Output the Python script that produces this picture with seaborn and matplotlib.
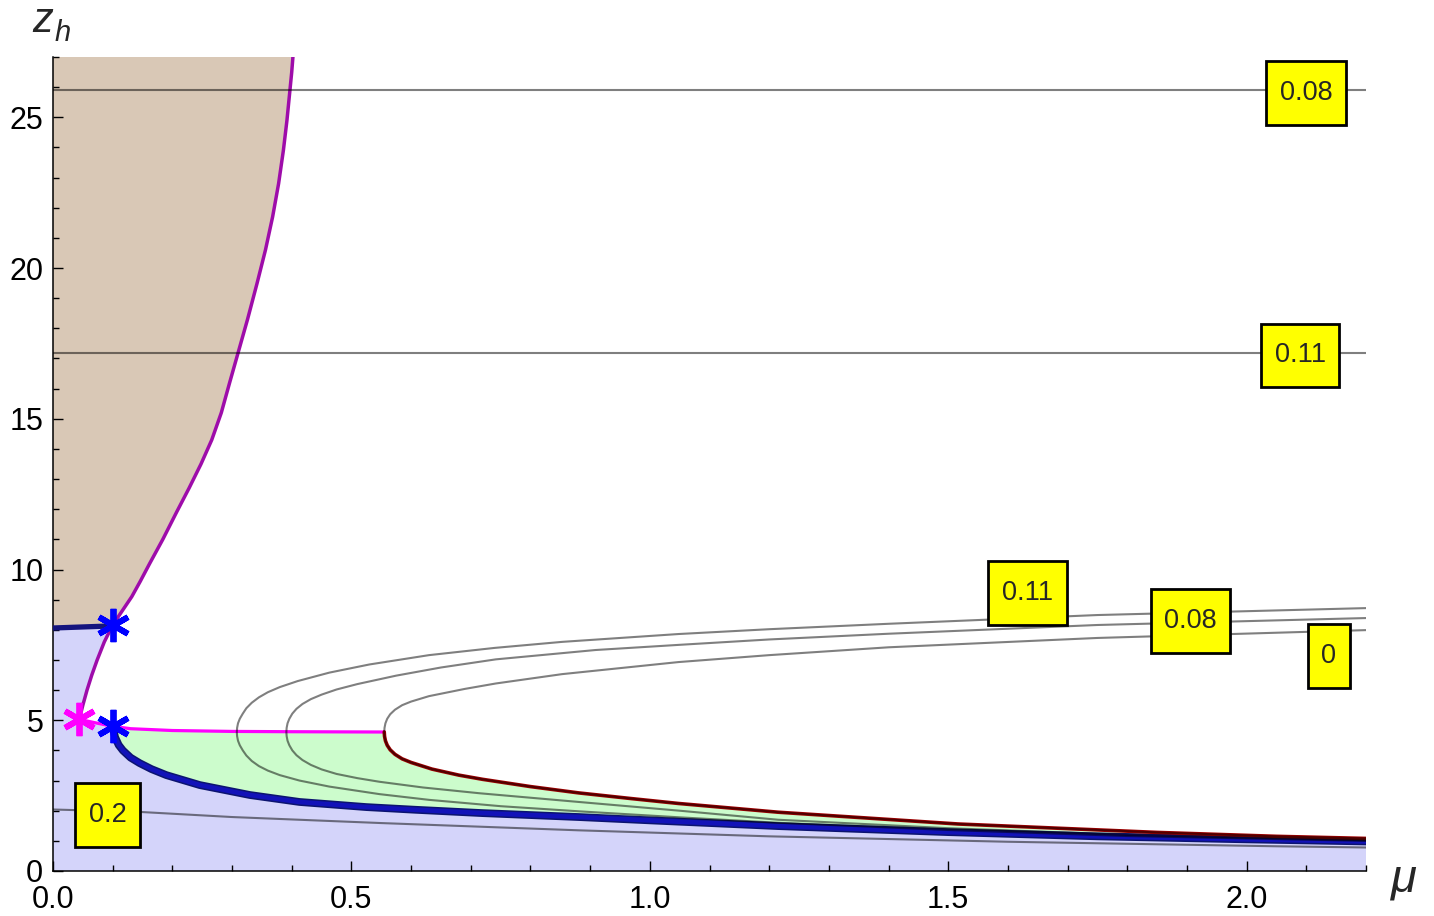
import matplotlib
matplotlib.use("Agg")
from matplotlib import pyplot as plt
from matplotlib.path import Path
from matplotlib.ticker import MultipleLocator
import seaborn as sns

# ---- data (mu, z_h) ----
# horizontal contour lines
hline_mu = [0.0, 2.2]
hline_008_z = [25.9, 25.9]
hline_011_z = [17.18, 17.18]

# purple boundary (pink star up to the top of the frame)
purple_mu = [0.044, 0.050, 0.057, 0.065, 0.074, 0.086, 0.100, 0.132, 0.146, 0.162, 0.184,
             0.207, 0.228, 0.248, 0.266, 0.282, 0.296, 0.310, 0.326, 0.342, 0.356, 0.368,
             0.378, 0.386, 0.392, 0.397, 0.400, 0.402]
purple_z = [5.03, 5.50, 6.00, 6.50, 7.00, 7.60, 8.16, 9.10, 9.60, 10.2, 11.0,
            11.9, 12.7, 13.5, 14.3, 15.2, 16.2, 17.18, 18.3, 19.5, 20.6, 21.7,
            22.8, 23.9, 24.9, 25.9, 26.5, 27.0]

# short dark blue line at the top of the lavender region
dblue_mu = [0.0, 0.1]
dblue_z = [8.06, 8.13]

# magenta line (pink star -> nose of the red curve)
mag_mu = [0.044, 0.070, 0.100, 0.130, 0.200, 0.300, 0.400, 0.555]
mag_z = [5.03, 4.92, 4.80, 4.72, 4.66, 4.63, 4.62, 4.61]

# thick blue curve
blue_mu = [0.100, 0.104, 0.110, 0.117, 0.130, 0.145, 0.165, 0.190, 0.246, 0.330,
           0.413, 0.525, 0.608, 0.720, 0.881, 1.000, 1.215, 1.500, 1.750, 2.000, 2.200]
blue_z = [4.80, 4.44, 4.18, 4.00, 3.76, 3.58, 3.38, 3.18, 2.85, 2.52,
          2.29, 2.12, 2.03, 1.92, 1.79, 1.68, 1.49, 1.29, 1.15, 1.05, 0.98]

# dark red curve
red_mu = [0.555, 0.5555, 0.557, 0.560, 0.565, 0.573, 0.585, 0.600, 0.635, 0.680, 0.720,
          0.800, 0.881, 0.970, 1.048, 1.215, 1.516, 1.850, 2.050, 2.200]
red_z = [4.61, 4.47, 4.32, 4.17, 4.02, 3.87, 3.72, 3.60, 3.38, 3.18, 3.04,
         2.80, 2.59, 2.40, 2.24, 1.95, 1.56, 1.28, 1.15, 1.08]

# gray contour "0" (upper branch; lower branch runs along the red curve)
g0_mu = [0.555, 0.5555, 0.557, 0.560, 0.565, 0.573, 0.585, 0.600, 0.630, 0.690, 0.742,
         0.853, 1.048, 1.200, 1.400, 1.750, 2.200]
g0_z = [4.61, 4.75, 4.90, 5.05, 5.20, 5.35, 5.50, 5.62, 5.80, 6.04, 6.22,
        6.53, 6.93, 7.16, 7.42, 7.73, 7.99]

# gray contour "0.08" (lower branch from the right, nose, upper branch)
g08_mu = [2.200, 1.800, 1.500, 1.215, 1.050, 0.881, 0.714, 0.620, 0.547, 0.510, 0.475,
          0.450, 0.432, 0.418, 0.408, 0.401, 0.396, 0.393, 0.3915, 0.391,
          0.3915, 0.393, 0.396, 0.401, 0.408, 0.418, 0.432, 0.450, 0.475, 0.510,
          0.575, 0.650, 0.742, 0.909, 1.048, 1.200, 1.400, 1.750, 2.200]
g08_z = [1.02, 1.20, 1.42, 1.70, 2.00, 2.29, 2.58, 2.77, 2.96, 3.08, 3.22,
         3.37, 3.52, 3.68, 3.84, 4.00, 4.17, 4.32, 4.47, 4.61,
         4.75, 4.90, 5.05, 5.22, 5.38, 5.54, 5.70, 5.85, 6.02, 6.20,
         6.48, 6.75, 7.02, 7.33, 7.50, 7.68, 7.87, 8.16, 8.39]

# gray contour "0.11"
g11_mu = [2.200, 1.800, 1.500, 1.215, 1.050, 0.881, 0.750, 0.630, 0.547, 0.463, 0.413,
          0.380, 0.360, 0.345, 0.333, 0.324, 0.318, 0.313, 0.310, 0.3085, 0.308,
          0.3085, 0.310, 0.313, 0.318, 0.324, 0.333, 0.345, 0.360, 0.380, 0.410,
          0.463, 0.530, 0.630, 0.740, 0.853, 1.048, 1.200, 1.400, 1.750, 2.200]
g11_z = [1.00, 1.16, 1.36, 1.60, 1.78, 1.98, 2.15, 2.36, 2.55, 2.80, 3.00,
         3.18, 3.33, 3.48, 3.65, 3.83, 4.00, 4.17, 4.32, 4.47, 4.61,
         4.75, 4.90, 5.05, 5.22, 5.40, 5.58, 5.76, 5.93, 6.10, 6.30,
         6.58, 6.85, 7.16, 7.40, 7.60, 7.86, 8.02, 8.20, 8.49, 8.72]

# gray contour "0.2"
g2_mu = [0.0, 0.145, 0.300, 0.550, 0.880, 1.200, 1.600, 2.050, 2.200]
g2_z = [2.04, 1.96, 1.79, 1.59, 1.35, 1.15, 0.97, 0.82, 0.78]

# stars
bstar_mu = [0.100, 0.100]
bstar_z = [8.16, 4.80]
pstar_mu = [0.044]
pstar_z = [5.03]

# contour labels
label_text = ["0.08", "0.11", "0.11", "0.08", "0", "0.2"]
label_mu = [2.100, 2.090, 1.633, 1.906, 2.138, 0.092]
label_z = [25.8, 17.1, 9.22, 8.29, 7.13, 1.86]


def label_box(x0, y0, width, height, mutation_size):
    # plain rectangle, a bit taller than wide padding
    px = 0.5 * mutation_size
    py = 0.7 * mutation_size
    xa, ya = x0 - px, y0 - py
    xb, yb = x0 + width + px, y0 + height + py
    return Path([(xa, ya), (xb, ya), (xb, yb), (xa, yb), (xa, ya)], closed=True)


# ---- style ----
sns.set_style("ticks")
plt.rcParams['font.family'] = ['Liberation Sans', 'DejaVu Sans']

W, H = 1434, 916
fig = plt.figure(figsize=(W / 100, H / 100), dpi=100)
ax = fig.add_axes([53 / W, 45 / H, (1366 - 53) / W, (871 - 57) / H])

# ---- filled regions ----
n_star = purple_mu.index(0.100)
lav_x = [0.0] + dblue_mu + purple_mu[:n_star][::-1] + mag_mu[1:3] + blue_mu[1:] + [2.2, 0.0]
lav_y = [0.0] + dblue_z + purple_z[:n_star][::-1] + mag_z[1:3] + blue_z[1:] + [0.0, 0.0]
ax.fill(lav_x, lav_y, color="#D4D4FA", lw=0, zorder=1)

green_x = mag_mu[2:] + red_mu[1:] + blue_mu[::-1]
green_y = mag_z[2:] + red_z[1:] + blue_z[::-1]
ax.fill(green_x, green_y, color="#CCFCCC", lw=0, zorder=1)

tan_x = [0.0] + dblue_mu + purple_mu[n_star:] + [0.0]
tan_y = [27.0] + dblue_z + purple_z[n_star:] + [27.0]
ax.fill(tan_x, tan_y, color="#D9C8B6", lw=0, zorder=1)

# ---- coloured boundary lines ----
sns.lineplot(x=purple_mu, y=purple_z, sort=False, estimator=None, color="#9E0CAA",
             lw=2.5, ax=ax, zorder=3)
sns.lineplot(x=mag_mu, y=mag_z, sort=False, estimator=None, color="#FF00FF",
             lw=2.3, ax=ax, zorder=3)
sns.lineplot(x=dblue_mu, y=dblue_z, sort=False, estimator=None, color="#14147E",
             lw=3.8, ax=ax, zorder=3)
sns.lineplot(x=blue_mu, y=blue_z, sort=False, estimator=None, color="#0C1470",
             lw=5.6, ax=ax, zorder=3)
sns.lineplot(x=blue_mu, y=blue_z, sort=False, estimator=None, color="#1212B8",
             lw=3.4, ax=ax, zorder=3)
sns.lineplot(x=red_mu, y=red_z, sort=False, estimator=None, color="#A00000",
             lw=2.6, ax=ax, zorder=3)

# ---- gray contour lines (semi transparent, on top) ----
gray = dict(sort=False, estimator=None, color="black", alpha=0.5, lw=1.5, ax=ax, zorder=4)
sns.lineplot(x=hline_mu, y=hline_008_z, **gray)
sns.lineplot(x=hline_mu, y=hline_011_z, **gray)
sns.lineplot(x=red_mu[::-1] + g0_mu[1:], y=red_z[::-1] + g0_z[1:], **gray)
sns.lineplot(x=g08_mu, y=g08_z, **gray)
sns.lineplot(x=g11_mu, y=g11_z, **gray)
sns.lineplot(x=g2_mu, y=g2_z, **gray)

# ---- stars ----
ax.plot(bstar_mu, bstar_z, ls="none", marker=(6, 2, 0), ms=24, mew=4.2,
        color="#0000FF", zorder=6, clip_on=False)
ax.plot(pstar_mu, pstar_z, ls="none", marker=(6, 2, 0), ms=24, mew=4.2,
        color="#FF00FF", zorder=6, clip_on=False)

# ---- labels ----
for t, xm, ym in zip(label_text, label_mu, label_z):
    ax.text(xm, ym, t, ha="center", va="center", fontsize=19.5, zorder=7,
            bbox=dict(boxstyle=label_box, fc="#FFFF00", ec="black", lw=2))

# ---- axes ----
ax.set_xlim(0, 2.2)
ax.set_ylim(0, 27)
ax.set_xlabel("")
ax.set_ylabel("")
ax.set_axisbelow(False)
for s in ["top", "right"]:
    ax.spines[s].set_visible(False)
for s in ["left", "bottom"]:
    ax.spines[s].set_linewidth(1.1)
    ax.spines[s].set_color("black")
ax.set_xticks([0, 0.5, 1.0, 1.5, 2.0])
ax.set_xticklabels(["0.0", "0.5", "1.0", "1.5", "2.0"])
ax.set_yticks([0, 5, 10, 15, 20, 25])
ax.set_yticklabels(["0", "5", "10", "15", "20", "25"])
ax.xaxis.set_minor_locator(MultipleLocator(0.1))
ax.yaxis.set_minor_locator(MultipleLocator(1))
ax.tick_params(which="both", direction="in", color="black", width=1.0, labelsize=22,
               labelcolor="black")
ax.tick_params(axis="x", which="major", pad=10)
ax.tick_params(axis="y", which="major", pad=7)
ax.tick_params(which="major", length=7)
ax.tick_params(which="minor", length=4)
ax.set_facecolor("white")

fig.text(32 / W, 1 - 32 / H, "z", style="italic", fontsize=30, va="baseline", ha="left")
fig.text(55 / W, 1 - 41 / H, "h", style="italic", fontsize=21, va="baseline", ha="left")
fig.text(1404 / W, 1 - 880 / H, "μ", style="italic", fontsize=34, va="center", ha="center")

fig.savefig("out.png", dpi=100, facecolor="white")
